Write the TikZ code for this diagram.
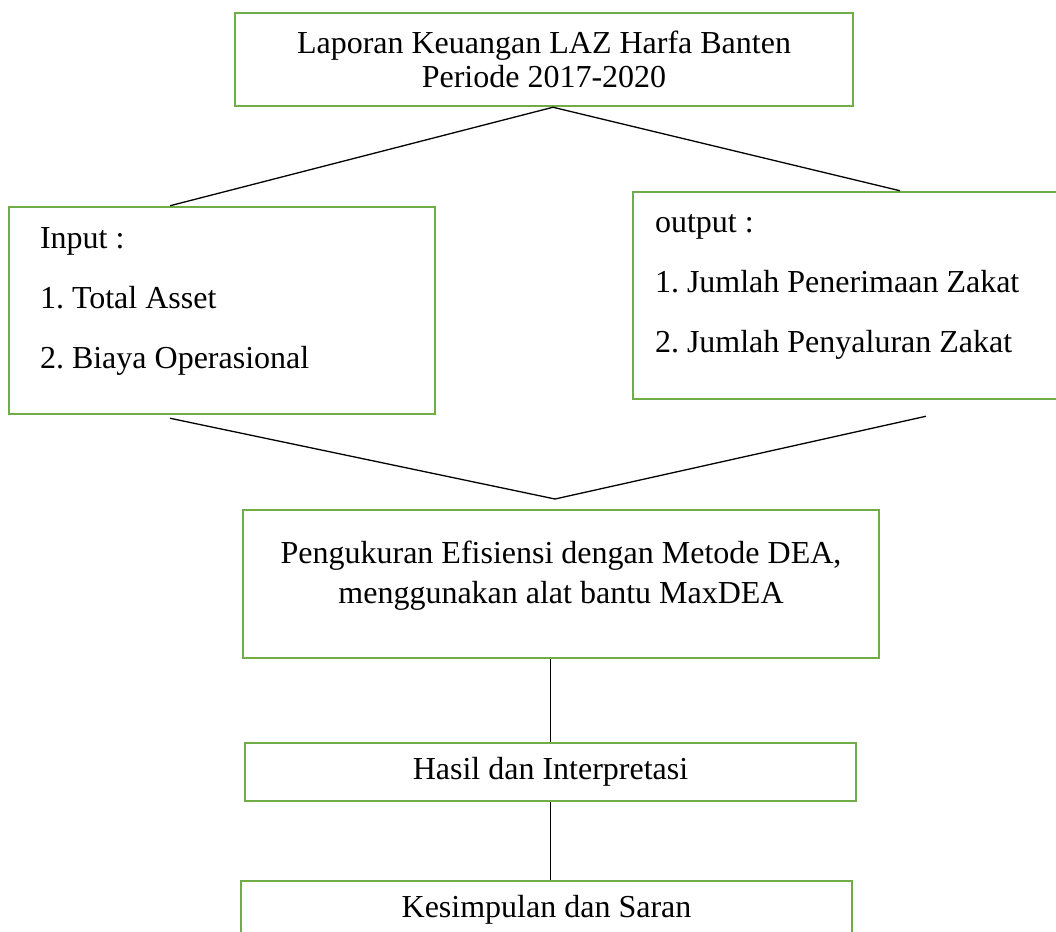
\documentclass[tikz,border=0pt]{standalone}
\usepackage{fontspec}
\setmainfont{Liberation Serif}
\definecolor{boxgreen}{RGB}{112,173,71}
\frenchspacing

\begin{document}
\begin{tikzpicture}[x=0.5pt,y=-0.5pt]
\tikzstyle{box}=[rectangle,draw=boxgreen,line width=1.25pt,inner sep=0pt,align=flush center,font=\fontsize{16}{17}\selectfont]
\tikzstyle{list}=[box,align=flush left,font=\fontsize{16}{30}\selectfont]
\tikzstyle{link}=[black,line width=0.65pt]
\useasboundingbox (0,0) rectangle (1056,932);
\node[box,minimum width=309pt,minimum height=46.5pt] (B_top) at (544,59.5) {Laporan Keuangan LAZ Harfa Banten\\Periode 2017-2020};
\node[list,minimum width=213pt,minimum height=103.5pt,text width=182pt] (B_in) at (222,310.5) {Input :\\1. Total Asset\\2. Biaya Operasional\rule[-12pt]{0pt}{12pt}};
\node[list,minimum width=219.5pt,minimum height=103.5pt,text width=197.5pt] (B_out) at (852.5,295.5) {output :\\1. Jumlah Penerimaan Zakat\\2. Jumlah Penyaluran Zakat\rule[-12pt]{0pt}{12pt}};
\node[box,minimum width=318pt,minimum height=74pt,font=\fontsize{16}{20}\selectfont] (B_dea) at (561,584) {Pengukuran Efisiensi dengan Metode DEA,\\menggunakan alat bantu MaxDEA\rule[-12pt]{0pt}{12pt}};
\node[box,minimum width=305.5pt,minimum height=29pt] (B_hasil) at (550.5,772) {Hasil dan Interpretasi};
\node[box,minimum width=305.5pt,minimum height=29pt] (B_kes) at (546.5,910) {Kesimpulan dan Saran};
\coordinate (M) at (555,499);
\draw[link] ([xshift=4.5pt]B_top.south) -- ([xshift=-26pt]B_in.north);
\draw[link] ([xshift=4.5pt]B_top.south) -- ([xshift=23.75pt]B_out.north);
\draw[link] ([xshift=-26pt,yshift=-1.5pt]B_in.south) -- (M) -- ([xshift=36.75pt,yshift=-8pt]B_out.south);
\draw[link] (B_dea.south -| B_hasil.north) -- (B_hasil.north);
\draw[link] (B_hasil.south) -- (B_hasil.south |- B_kes.north);
\end{tikzpicture}
\end{document}
